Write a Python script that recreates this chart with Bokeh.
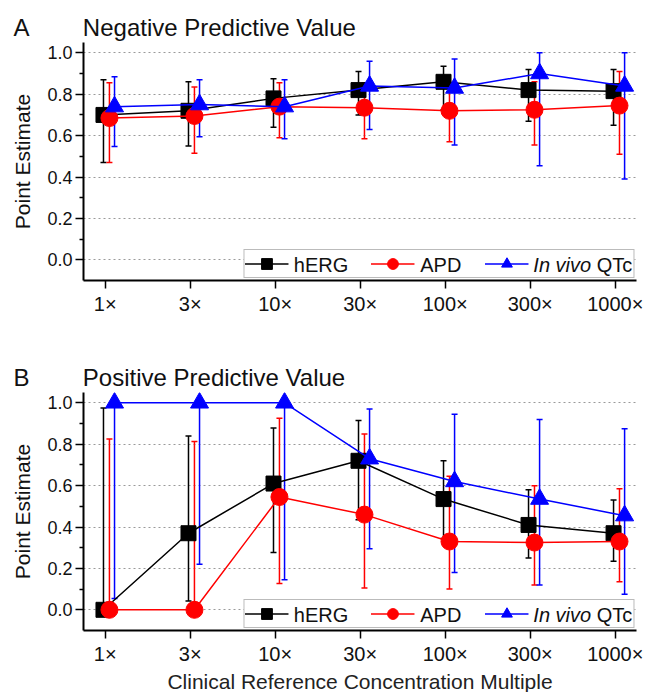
from bokeh.plotting import figure
from bokeh.models import (ColumnDataSource, Whisker, TeeHead, FixedTicker, Legend,
                          LegendItem, Label, PrintfTickFormatter, Range1d, Title,
                          BoxAnnotation)
from bokeh.layouts import column
from bokeh.transform import dodge
from bokeh.embed import file_html
from bokeh.resources import INLINE

categories = ["1×", "3×", "10×", "30×", "100×", "300×", "1000×"]
y_ticks = [0.0, 0.2, 0.4, 0.6, 0.8, 1.0]
y_minor = [0.1, 0.3, 0.5, 0.7, 0.9]
series_names = ["hERG", "APD", "In vivo QTc"]

# Panel A: Negative Predictive Value
npv_herg = [0.70, 0.72, 0.78, 0.82, 0.86, 0.82, 0.815]
npv_herg_lo = [0.47, 0.55, 0.64, 0.70, 0.725, 0.67, 0.65]
npv_herg_hi = [0.87, 0.86, 0.875, 0.91, 0.935, 0.92, 0.92]
npv_apd = [0.685, 0.695, 0.74, 0.735, 0.72, 0.725, 0.745]
npv_apd_lo = [0.47, 0.515, 0.59, 0.585, 0.57, 0.555, 0.51]
npv_apd_hi = [0.855, 0.835, 0.855, 0.855, 0.845, 0.86, 0.91]
npv_qtc = [0.74, 0.75, 0.74, 0.84, 0.83, 0.90, 0.84]
npv_qtc_lo = [0.548, 0.595, 0.585, 0.63, 0.555, 0.455, 0.39]
npv_qtc_hi = [0.885, 0.87, 0.87, 0.96, 0.97, 1.0, 1.0]

# Panel B: Positive Predictive Value
ppv_herg = [0.0, 0.37, 0.61, 0.72, 0.535, 0.41, 0.37]
ppv_herg_lo = [0.0, 0.043, 0.277, 0.435, 0.345, 0.25, 0.235]
ppv_herg_hi = [0.975, 0.84, 0.878, 0.915, 0.72, 0.58, 0.53]
ppv_apd = [0.0, 0.0, 0.545, 0.46, 0.33, 0.325, 0.33]
ppv_apd_lo = [0.0, 0.0, 0.127, 0.105, 0.10, 0.12, 0.135]
ppv_apd_hi = [0.825, 0.813, 0.925, 0.85, 0.645, 0.60, 0.585]
ppv_qtc = [1.0, 1.0, 1.0, 0.73, 0.62, 0.535, 0.455]
ppv_qtc_lo = [0.055, 0.22, 0.145, 0.295, 0.18, 0.12, 0.075]
ppv_qtc_hi = [1.0, 1.0, 1.0, 0.97, 0.945, 0.92, 0.875]

FONT = "Liberation Sans"
colors = ["#000000", "#ff0000", "#0000ff"]
markers = ["square", "circle", "triangle"]
msizes = [15, 17, 18]
offsets = [-0.02, 0.05, 0.11]
FW, FH = 553, 238
LEG_PAD = 0
LEG_MARGIN = 2
LEG_FONT = 20
LEG_GW, LEG_GH, LEG_STANDOFF, LEG_SPACING = 44, 27, 6, 22
# advance widths (em) of the legend labels in Liberation Sans
label_em = [2.723, 2.056, 5.057]
italic_part, upright_part, italic_em = "In vivo", "QTc", 3.168
TXT = "#111111"


def make_panel(letter, title, series, top, bottom, xlabel):
    p = figure(frame_width=FW, frame_height=FH, width=83 + FW + 16,
               height=top + FH + bottom,
               x_range=Range1d(-0.255, 6.25), y_range=Range1d(-0.1, 1.05),
               output_backend="svg", toolbar_location=None,
               min_border_left=83, min_border_right=16,
               min_border_top=top, min_border_bottom=bottom)
    p.outline_line_color = None
    p.background_fill_color = "white"
    p.xgrid.visible = False
    p.ygrid.grid_line_color = "#9a9a9a"
    p.ygrid.grid_line_dash = "2 3"
    p.ygrid.grid_line_width = 1

    p.add_layout(Title(text=letter + "\u00a0" * 8 + title, align="left", offset=-70,
                       standoff=3, text_font=FONT, text_font_size="24px",
                       text_font_style="normal", text_color=TXT), "above")

    xa = p.xaxis[0]
    xa.ticker = FixedTicker(ticks=list(range(len(categories))))
    xa.major_label_overrides = {i: c for i, c in enumerate(categories)}
    xa.minor_tick_line_color = None
    xa.major_tick_in = 0
    xa.major_tick_out = 8
    xa.major_tick_line_width = 1.5
    xa.axis_line_width = 2
    xa.major_label_text_font = FONT
    xa.major_label_text_font_size = "20px"
    xa.major_label_text_color = TXT
    xa.major_label_standoff = 4
    if xlabel:
        xa.axis_label = xlabel
        xa.axis_label_text_font = FONT
        xa.axis_label_text_font_size = "21px"
        xa.axis_label_text_font_style = "normal"
        xa.axis_label_text_color = "#222222"
        xa.axis_label_standoff = 2

    ya = p.yaxis[0]
    ya.ticker = FixedTicker(ticks=y_ticks, minor_ticks=y_minor)
    ya.formatter = PrintfTickFormatter(format="%.1f")
    ya.major_tick_in = 0
    ya.major_tick_out = 8
    ya.minor_tick_in = 0
    ya.minor_tick_out = 4
    ya.major_tick_line_width = 1.5
    ya.minor_tick_line_width = 1.5
    ya.axis_line_width = 2
    ya.major_label_text_font = FONT
    ya.major_label_text_font_size = "18px"
    ya.major_label_text_color = TXT
    ya.major_label_standoff = 3
    ya.axis_label = "Point Estimate"
    ya.axis_label_text_font = FONT
    ya.axis_label_text_font_size = "21px"
    ya.axis_label_text_font_style = "normal"
    ya.axis_label_text_color = TXT
    ya.axis_label_standoff = 10

    # legend geometry (screen units, measured from the frame's bottom-left)
    widths = [e * LEG_FONT for e in label_em]
    leg_w = 2 * LEG_PAD + sum(LEG_GW + LEG_STANDOFF + w for w in widths) \
        + LEG_SPACING * (len(widths) - 1)
    leg_right = FW - LEG_MARGIN
    leg_left = leg_right - leg_w
    leg_bottom = LEG_MARGIN
    leg_top = leg_bottom + 2 * LEG_PAD + LEG_GH
    p.add_layout(BoxAnnotation(left=leg_left, right=leg_right, bottom=leg_bottom, top=leg_top,
                               left_units="screen", right_units="screen",
                               bottom_units="screen", top_units="screen",
                               fill_color="white", fill_alpha=1, line_color=None,
                               level="underlay"))

    items = []
    for k, (vals, lo, hi) in enumerate(series):
        src = ColumnDataSource(dict(x=list(range(len(categories))), y=vals, lo=lo, hi=hi))
        xs = dodge("x", offsets[k])
        w = Whisker(source=src, base=xs, upper="hi", lower="lo", dimension="height",
                    line_color=colors[k], line_width=1.5,
                    upper_head=TeeHead(size=6, line_color=colors[k], line_width=1.5),
                    lower_head=TeeHead(size=6, line_color=colors[k], line_width=1.5))
        p.add_layout(w)
        lr = p.line(x=xs, y="y", source=src, line_color=colors[k], line_width=1.5)
        sr = p.scatter(x=xs, y="y", source=src, marker=markers[k], size=msizes[k],
                       fill_color=colors[k], line_color=colors[k])
        items.append(LegendItem(label=series_names[k], renderers=[lr, sr]))

    # visible legend texts (so that "In vivo" can be italic)
    ymid = (leg_bottom + leg_top) / 2
    xpos = leg_left + LEG_PAD
    for k, name in enumerate(series_names):
        tx = xpos + LEG_GW + LEG_STANDOFF
        common = dict(y=ymid, x_units="screen", y_units="screen", text_font=FONT,
                      text_font_size=f"{LEG_FONT}px", text_color=TXT,
                      text_baseline="middle", text_align="left")
        if name.startswith(italic_part):
            p.add_layout(Label(x=tx, text=italic_part, text_font_style="italic", **common))
            p.add_layout(Label(x=tx + italic_em * LEG_FONT, text=upright_part, **common))
        else:
            p.add_layout(Label(x=tx, text=name, **common))
        xpos = tx + widths[k] + LEG_SPACING

    legend = Legend(items=items, orientation="horizontal", location="bottom_right",
                    margin=LEG_MARGIN, padding=LEG_PAD, spacing=LEG_SPACING,
                    glyph_width=LEG_GW, glyph_height=LEG_GH, label_standoff=LEG_STANDOFF,
                    label_text_font=FONT, label_text_font_size=f"{LEG_FONT}px",
                    label_text_alpha=0,
                    border_line_color="#777777", border_line_width=1.5,
                    background_fill_alpha=0)
    p.add_layout(legend)
    return p


pa = make_panel("A", "Negative Predictive Value",
                [(npv_herg, npv_herg_lo, npv_herg_hi),
                 (npv_apd, npv_apd_lo, npv_apd_hi),
                 (npv_qtc, npv_qtc_lo, npv_qtc_hi)], 42, 60, None)
pb = make_panel("B", "Positive Predictive Value",
                [(ppv_herg, ppv_herg_lo, ppv_herg_hi),
                 (ppv_apd, ppv_apd_lo, ppv_apd_hi),
                 (ppv_qtc, ppv_qtc_lo, ppv_qtc_hi)], 52, 58,
                "Clinical Reference Concentration Multiple")

layout = column(pa, pb, spacing=0)
open("out.html", "w").write(file_html(layout, INLINE))
